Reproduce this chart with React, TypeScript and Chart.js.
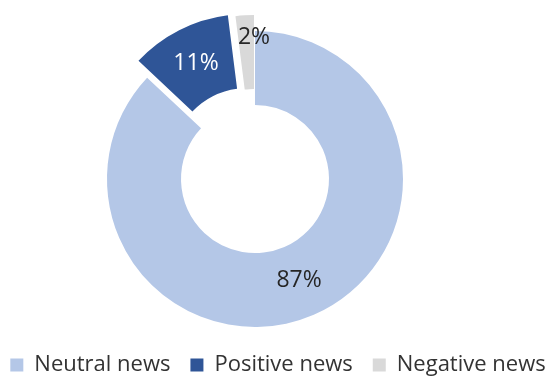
import React, { useEffect, useRef } from "react";
import { Chart, registerables } from "chart.js";

Chart.register(...registerables);

const categories = ["Neutral news", "Positive news", "Negative news"];
const shares = [87, 11, 2];
const sliceColors = ["#B4C7E7", "#2F5597", "#D9D9D9"];
const labelColors = ["#262626", "#FFFFFF", "#262626"];
const explode = [0, 19, 16];

const explodePlugin = {
  id: "explodeSlices",
  afterDatasetsUpdate(chart: any) {
    const meta = chart.getDatasetMeta(0);
    meta.data.forEach((arc: any, i: number) => {
      const d = explode[i] || 0;
      if (!d) return;
      const mid = (arc.startAngle + arc.endAngle) / 2;
      arc.x += Math.cos(mid) * d;
      arc.y += Math.sin(mid) * d;
    });
  },
};

const labelPlugin = {
  id: "sliceLabels",
  afterDatasetsDraw(chart: any) {
    const ctx = chart.ctx;
    const meta = chart.getDatasetMeta(0);
    ctx.save();
    ctx.font = "23px 'Open Sans'";
    ctx.textAlign = "center";
    ctx.textBaseline = "middle";
    meta.data.forEach((arc: any, i: number) => {
      const { x, y, startAngle, endAngle, innerRadius, outerRadius } = arc;
      let ang = (startAngle + endAngle) / 2;
      let r = (innerRadius + outerRadius) / 2;
      if (i === 2) {
        ang = endAngle;
        r = innerRadius + 0.7 * (outerRadius - innerRadius);
      }
      ctx.fillStyle = labelColors[i];
      ctx.fillText(`${shares[i]}%`, x + Math.cos(ang) * r, y + Math.sin(ang) * r);
    });
    ctx.restore();
  },
};

export default function App() {
  const ref = useRef<HTMLCanvasElement | null>(null);
  useEffect(() => {
    if (!ref.current) return;
    const chart = new Chart(ref.current, {
      type: "doughnut",
      data: {
        labels: categories,
        datasets: [
          {
            data: shares,
            backgroundColor: sliceColors,
            borderWidth: 0,
          },
        ],
      },
      options: {
        responsive: false,
        animation: false,
        events: [],
        cutout: "50%",
        radius: 148,
        layout: { padding: { top: 24, left: 0, right: 0, bottom: 0 } },
        plugins: {
          tooltip: { enabled: false },
          title: {
            display: true,
            position: "right",
            text: " ",
            color: "rgba(0,0,0,0)",
            font: { size: 20, lineHeight: 1 },
            padding: 13,
          },
          legend: {
            position: "bottom",
            labels: {
              boxWidth: 13,
              boxHeight: 13,
              padding: 20,
              color: "#333333",
              font: { family: "'Open Sans'", size: 22 },
            },
          },
        },
      },
      plugins: [explodePlugin, labelPlugin],
    });
    return () => chart.destroy();
  }, []);
  return (
    <div style={{ position: "absolute", left: 0, top: 0, width: 548, height: 376, overflow: "hidden", background: "#fff" }}>
      <canvas ref={ref} width={600} height={386} style={{ position: "absolute", left: -22, top: 0 }} />
    </div>
  );
}
